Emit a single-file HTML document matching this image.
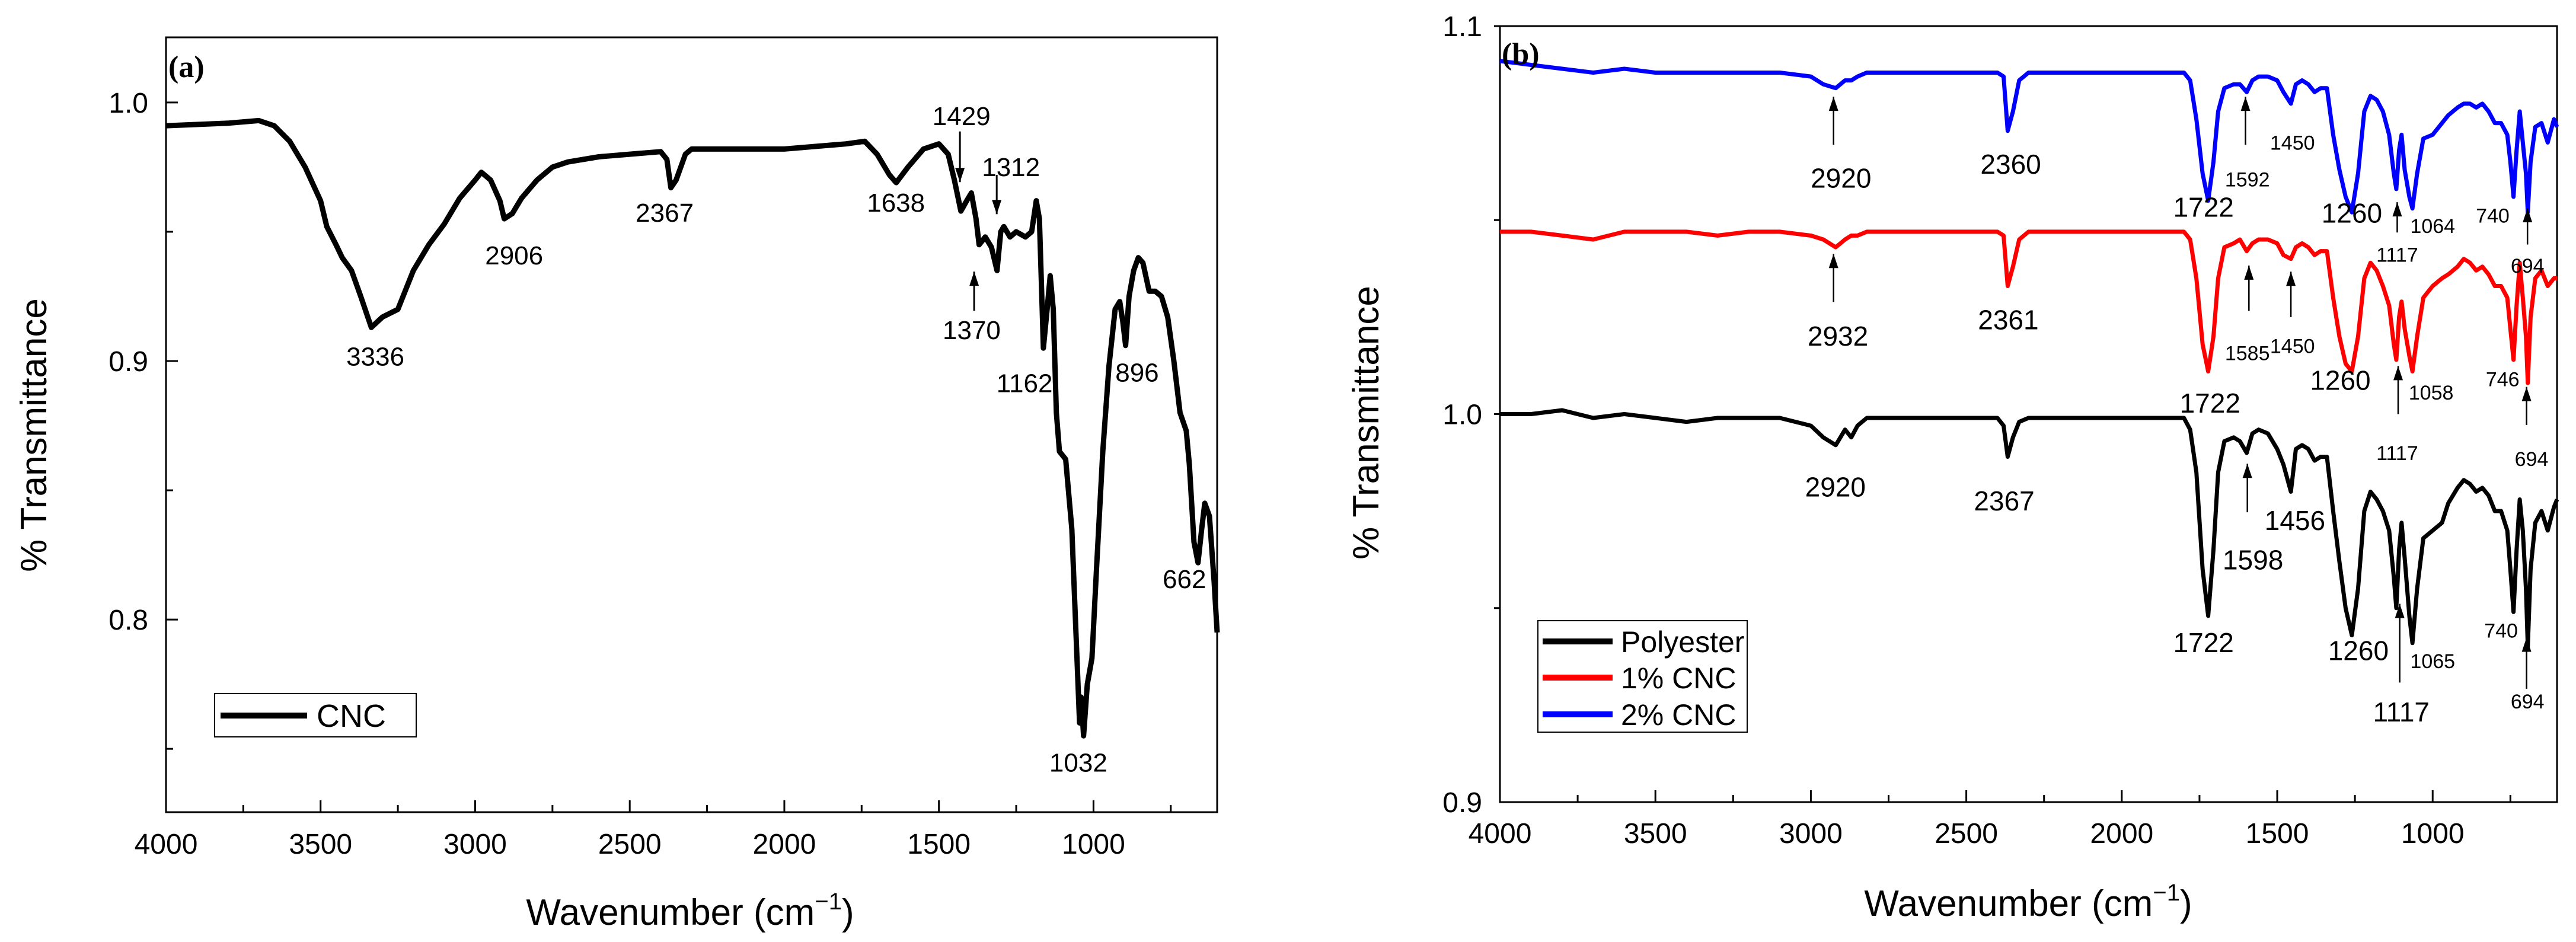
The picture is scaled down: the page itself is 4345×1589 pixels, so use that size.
<!DOCTYPE html>
<html><head><meta charset="utf-8"><style>
html,body{margin:0;padding:0;background:#fff;}
svg{display:block;font-family:"Liberation Sans",Arial,sans-serif;}
</style></head>
<body>
<svg id="fig" xmlns="http://www.w3.org/2000/svg" width="4345" height="1589" viewBox="0 0 4345 1589">
<rect width="4345" height="1589" fill="#fff"/>
<g id="pa"></g>
<g id="pb"></g>
</svg>
<script>
// ---- Panel (a) data ----
const cncWn = [4000,3800,3700,3650,3600,3550,3500,3480,3450,3430,3400,3370,3336,3300,3250,3200,3150,3100,3050,3000,2980,2950,2920,2906,2880,2850,2800,2750,2700,2600,2500,2400,2380,2367,2350,2320,2300,2200,2000,1900,1800,1740,1700,1660,1638,1600,1550,1500,1470,1450,1429,1410,1395,1380,1370,1350,1330,1312,1300,1290,1270,1250,1220,1200,1185,1175,1162,1150,1140,1130,1120,1110,1090,1070,1055,1045,1040,1032,1020,1005,990,970,950,930,915,905,896,885,870,855,840,820,800,780,760,740,720,700,690,675,662,650,640,625,610,600];
const cncVal = [0.991,0.992,0.993,0.991,0.985,0.975,0.962,0.952,0.945,0.940,0.935,0.925,0.913,0.917,0.920,0.935,0.945,0.953,0.963,0.970,0.973,0.970,0.962,0.955,0.957,0.963,0.970,0.975,0.977,0.979,0.980,0.981,0.978,0.967,0.970,0.980,0.982,0.982,0.982,0.983,0.984,0.985,0.980,0.972,0.969,0.975,0.982,0.984,0.980,0.970,0.958,0.962,0.965,0.955,0.945,0.948,0.944,0.935,0.950,0.952,0.948,0.950,0.948,0.950,0.962,0.955,0.905,0.920,0.933,0.920,0.880,0.865,0.862,0.835,0.790,0.760,0.770,0.755,0.775,0.785,0.820,0.865,0.898,0.920,0.923,0.915,0.906,0.925,0.935,0.940,0.938,0.927,0.927,0.925,0.917,0.900,0.880,0.873,0.860,0.830,0.822,0.835,0.845,0.840,0.815,0.795];
const aXTicks = [4000,3500,3000,2500,2000,1500,1000];
const aYTicks = [0.8,0.9,1.0];
const aLabels = [["3336",3323,0.9019],["2906",2874,0.9411],["2367",2387,0.9575],["1638",1639,0.9614],["1429",1427,0.9949],["1312",1267,0.9752],["1370",1394,0.9121],["1162",1223,0.8916],["896",859,0.8958],["662",706,0.8159],["1032",1049,0.7449]];
const aArrows = [[1432,0.9888,0.9692],[1313,0.972,0.9568],[1386,0.9194,0.9346]];

// ---- Panel (b) data ----
const bWn = [4000,3900,3800,3700,3600,3500,3400,3300,3200,3100,3000,2960,2920,2890,2870,2850,2820,2700,2500,2400,2380,2367,2350,2330,2300,2200,2000,1800,1780,1760,1740,1722,1705,1690,1670,1640,1620,1598,1580,1560,1530,1500,1480,1456,1440,1420,1400,1380,1360,1340,1320,1300,1280,1260,1240,1220,1200,1180,1160,1140,1125,1117,1108,1100,1090,1075,1065,1050,1030,1000,970,950,920,900,880,860,840,820,800,780,760,750,740,730,720,710,700,694,685,670,650,630,610,600];
const polyVal = [1.000,1.000,1.001,0.999,1.000,0.999,0.998,0.999,0.999,0.999,0.997,0.994,0.992,0.996,0.994,0.997,0.999,0.999,0.999,0.999,0.997,0.989,0.994,0.998,0.999,0.999,0.999,0.999,0.996,0.985,0.960,0.948,0.965,0.985,0.993,0.994,0.993,0.990,0.995,0.996,0.995,0.991,0.987,0.980,0.991,0.992,0.991,0.988,0.989,0.989,0.975,0.962,0.950,0.943,0.955,0.975,0.980,0.978,0.975,0.970,0.958,0.950,0.965,0.972,0.963,0.948,0.941,0.955,0.968,0.970,0.972,0.977,0.981,0.983,0.982,0.980,0.981,0.979,0.975,0.975,0.970,0.960,0.949,0.965,0.978,0.970,0.955,0.940,0.960,0.972,0.975,0.970,0.976,0.978];
const cnc1Val = [1.047,1.047,1.046,1.045,1.047,1.047,1.047,1.046,1.047,1.047,1.046,1.045,1.043,1.045,1.046,1.046,1.047,1.047,1.047,1.047,1.046,1.033,1.038,1.045,1.047,1.047,1.047,1.047,1.045,1.035,1.018,1.011,1.020,1.035,1.043,1.044,1.045,1.042,1.044,1.045,1.045,1.044,1.041,1.040,1.043,1.044,1.043,1.041,1.042,1.042,1.030,1.020,1.013,1.011,1.020,1.035,1.039,1.037,1.033,1.028,1.018,1.014,1.025,1.029,1.022,1.015,1.011,1.020,1.030,1.033,1.035,1.036,1.038,1.040,1.039,1.037,1.038,1.036,1.033,1.033,1.030,1.022,1.014,1.028,1.039,1.030,1.020,1.008,1.025,1.035,1.037,1.033,1.035,1.035];
const cnc2Val = [1.091,1.090,1.089,1.088,1.089,1.088,1.088,1.088,1.088,1.088,1.087,1.085,1.084,1.086,1.086,1.087,1.088,1.088,1.088,1.088,1.087,1.073,1.078,1.086,1.088,1.088,1.088,1.088,1.086,1.076,1.062,1.055,1.065,1.078,1.084,1.085,1.085,1.083,1.086,1.087,1.087,1.086,1.083,1.080,1.085,1.086,1.085,1.083,1.084,1.084,1.072,1.063,1.056,1.052,1.062,1.078,1.082,1.081,1.078,1.072,1.062,1.058,1.068,1.072,1.063,1.056,1.053,1.062,1.071,1.072,1.075,1.077,1.079,1.080,1.080,1.079,1.080,1.078,1.075,1.075,1.072,1.065,1.056,1.068,1.078,1.070,1.062,1.052,1.065,1.074,1.075,1.070,1.076,1.074];
const bXTicks = [4000,3500,3000,2500,2000,1500,1000];
const bYTicks = [0.9,1.0,1.1];
const bBig = [["2920",2903,1.0608],["2360",2357,1.0644],["1722",1737,1.0533],["1260",1260,1.0518],["2932",2913,1.0201],["2361",2365,1.0243],["1722",1716,1.0028],["1260",1297,1.0087],["2920",2921,0.9812],["2367",2378,0.9776],["1598",1578,0.9624],["1456",1443,0.9726],["1722",1737,0.9411],["1260",1239,0.9390],["1117",1101,0.9232]];
const bSmall = [["1592",1596,1.0605],["1450",1451,1.0700],["1117",1114,1.0411],["1064",1000,1.0485],["740",807,1.0512],["694",695,1.0383],["1585",1596,1.0157],["1450",1451,1.0176],["1058",1005,1.0056],["1117",1114,0.9900],["746",775,1.0090],["694",682,0.9885],["1065",1000,0.9364],["740",780,0.9442],["694",695,0.9260]];
const bArrows = [[2927,1.0694,1.0818],[1602,1.0694,1.0818],[1114,1.0468,1.0546],[695,1.0437,1.0531],[2927,1.0289,1.0413],[1591,1.0266,1.0383],[1456,1.025,1.0367],[1111,1.0,1.0124],[698,0.9972,1.007],[1596,0.9747,0.9872],[1106,0.9308,0.9511],[698,0.9292,0.9424]];

const NS = "http://www.w3.org/2000/svg";
function mk(parent, tag, attrs, text){
  const e = document.createElementNS(NS, tag);
  for (const k in attrs) e.setAttribute(k, attrs[k]);
  if (text !== undefined) e.textContent = text;
  parent.appendChild(e);
  return e;
}
function axisFns(x0,x1,y0,y1,wmin,wmax,vmin,vmax){
  return {
    x: w => x0 + (wmax - w) / (wmax - wmin) * (x1 - x0),
    y: v => y1 - (v - vmin) / (vmax - vmin) * (y1 - y0)
  };
}
function arrow(g, x, yt, yh, sw){
  const l = mk(g,'line',{x1:x,y1:yt,x2:x,y2:yh,stroke:'#000','stroke-width':sw});
  
  
  const d = yh < yt ? 1 : -1;
  const p = mk(g,'polygon',{points:`${x},${yh} ${x-8},${yh+d*24} ${x+8},${yh+d*24}`,fill:'#000'});
  
  
}

// ---------- Panel A ----------
(function(){
  const g = document.getElementById('pa');
  const X0=280,X1=2053,Y0=63,Y1=1370;
  const A = axisFns(X0,X1,Y0,Y1,600,4000,0.7255,1.0252);
  const fr = mk(g,'rect',{x:X0,y:Y0,width:X1-X0,height:Y1-Y0,fill:'none',stroke:'#000','stroke-width':3});
   
  for (let w=4000; w>=750; w-=250){
    const x=A.x(w); const major = w%500===0;
    const t = mk(g,'line',{x1:x,y1:Y1,x2:x,y2:Y1-(major?20:12),stroke:'#000','stroke-width':3});
     
  }
  aXTicks.forEach(w=>{
    const t = mk(g,'text',{x:A.x(w),y:1440,'font-size':48,'text-anchor':'middle'},String(w));
     
  });
  [0.75,0.8,0.85,0.9,0.95,1.0].forEach(v=>{
    const major = Math.abs(v*10-Math.round(v*10))<1e-6;
    const t = mk(g,'line',{x1:X0,y1:A.y(v),x2:X0+(major?20:12),y2:A.y(v),stroke:'#000','stroke-width':3});
     
  });
  aYTicks.forEach(v=>{
    const t = mk(g,'text',{x:250,y:A.y(v)+17,'font-size':48,'text-anchor':'end'},v.toFixed(1));
     
  });
  const pts = cncWn.map((w,i)=>A.x(w).toFixed(1)+','+A.y(cncVal[i]).toFixed(1)).join(' ');
  const ln = mk(g,'polyline',{points:pts,fill:'none',stroke:'#000','stroke-width':9,'stroke-linejoin':'round'});
   
  aLabels.forEach(l=>{
    const t = mk(g,'text',{x:A.x(l[1]),y:A.y(l[2])+16,'font-size':44,'text-anchor':'middle'},l[0]);
     
  });
  aArrows.forEach(a=>arrow(g,A.x(a[0]),A.y(a[1]),A.y(a[2]),3));
  const pl = mk(g,'text',{x:284,y:130,'font-size':52,'font-weight':'bold','font-family':'Liberation Serif, serif'},'(a)');
   
  const lg = mk(g,'g',{});
   
  mk(lg,'rect',{x:362,y:1170,width:340,height:73,fill:'#fff',stroke:'#000','stroke-width':2});
  mk(lg,'line',{x1:372,y1:1207,x2:518,y2:1207,stroke:'#000','stroke-width':10});
  const lt = mk(lg,'text',{x:534,y:1226,'font-size':54},'CNC');
   
  const yt = mk(g,'text',{x:0,y:0,'font-size':62,'text-anchor':'middle',transform:'translate(78,734) rotate(-90)'},'% Transmittance');
   
  const xt = mk(g,'text',{x:1164,y:1560,'font-size':62,'text-anchor':'middle'});
   
  xt.innerHTML = 'Wavenumber (cm<tspan dy="-26" font-size="40">−1</tspan><tspan dy="26">)</tspan>';
})();

// ---------- Panel B ----------
(function(){
  const g = document.getElementById('pb');
  const X0=2530,X1=4313,Y0=44,Y1=1353;
  const A = axisFns(X0,X1,Y0,Y1,600,4000,0.9,1.1);
  const fr = mk(g,'rect',{x:X0,y:Y0,width:X1-X0,height:Y1-Y0,fill:'none',stroke:'#000','stroke-width':3});
   
  for (let w=4000; w>=750; w-=250){
    const x=A.x(w); const major = w%500===0;
    const t = mk(g,'line',{x1:x,y1:Y1,x2:x,y2:Y1-(major?20:12),stroke:'#000','stroke-width':3});
     
  }
  bXTicks.forEach(w=>{
    const t = mk(g,'text',{x:A.x(w),y:1422,'font-size':48,'text-anchor':'middle'},String(w));
     
  });
  [0.95,1.0,1.05,1.1].forEach(v=>{
    const t = mk(g,'line',{x1:X0,y1:A.y(v),x2:X0-10,y2:A.y(v),stroke:'#000','stroke-width':3});
     
  });
  bYTicks.forEach(v=>{
    const t = mk(g,'text',{x:2500,y:A.y(v)+17,'font-size':48,'text-anchor':'end'},v.toFixed(1));
     
  });
  const series = [[polyVal,'#000','polyester-line'],[cnc1Val,'#ff0000','cnc-1pct-line'],[cnc2Val,'#0000ff','cnc-2pct-line']];
  series.forEach(s=>{
    const pts = bWn.map((w,i)=>A.x(w).toFixed(1)+','+A.y(s[0][i]).toFixed(1)).join(' ');
    const ln = mk(g,'polyline',{points:pts,fill:'none',stroke:s[1],'stroke-width':7,'stroke-linejoin':'round'});
     
  });
  bBig.forEach(l=>{
    const t = mk(g,'text',{x:A.x(l[1]),y:A.y(l[2])+16,'font-size':46,'text-anchor':'middle'},l[0]);
     
  });
  bSmall.forEach(l=>{
    const t = mk(g,'text',{x:A.x(l[1]),y:A.y(l[2])+12,'font-size':34,'text-anchor':'middle'},l[0]);
     
  });
  bArrows.forEach(a=>arrow(g,A.x(a[0]),A.y(a[1]),A.y(a[2]),2.5));
  const pl = mk(g,'text',{x:2533,y:108,'font-size':52,'font-weight':'bold','font-family':'Liberation Serif, serif'},'(b)');
   
  const lg = mk(g,'g',{});
   
  mk(lg,'rect',{x:2594,y:1047,width:353,height:188,fill:'#fff',stroke:'#000','stroke-width':2});
  [['Polyester','#000',1082],['1% CNC','#ff0000',1143],['2% CNC','#0000ff',1205]].forEach(e=>{
    mk(lg,'line',{x1:2602,y1:e[2],x2:2720,y2:e[2],stroke:e[1],'stroke-width':10});
    const t = mk(lg,'text',{x:2734,y:e[2]+18,'font-size':50},e[0]);
     
  });
  const yt = mk(g,'text',{x:0,y:0,'font-size':62,'text-anchor':'middle',transform:'translate(2325,713) rotate(-90)'},'% Transmittance');
   
  const xt = mk(g,'text',{x:3421,y:1545,'font-size':62,'text-anchor':'middle'});
   
  xt.innerHTML = 'Wavenumber (cm<tspan dy="-26" font-size="40">−1</tspan><tspan dy="26">)</tspan>';
})();
</script>
</body></html>
